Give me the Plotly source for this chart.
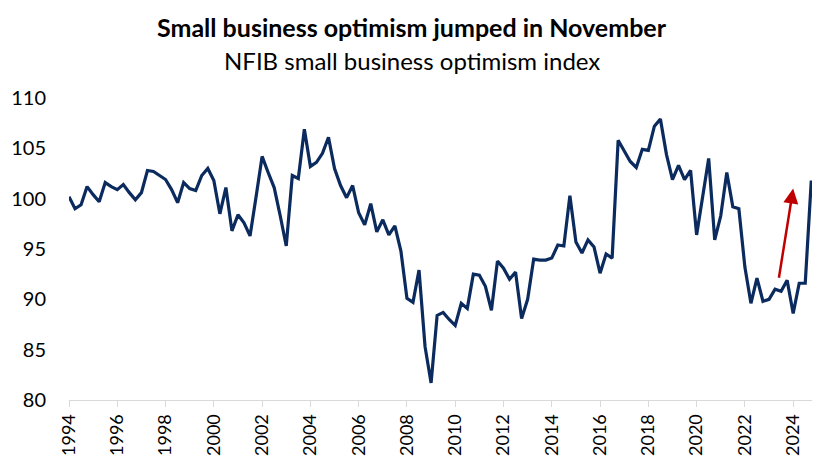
import plotly.graph_objects as go

start_year = 1994
# NFIB small business optimism index, quarterly 1994Q1 - 2024Q4
values = [
    100.2, 99.0, 99.4, 101.2, 100.4, 99.7, 101.6, 101.2, 100.9, 101.4, 100.6, 99.9,
    100.6, 102.8, 102.7, 102.3, 101.9, 100.9, 99.6, 101.6, 101.0, 100.8, 102.3, 103.0,
    101.8, 98.5, 101.1, 96.8, 98.4, 97.6, 96.3, 100.2, 104.2, 102.6, 101.1, 98.3,
    95.3, 102.3, 102.0, 106.9, 103.2, 103.6, 104.5, 106.1, 103.0, 101.3, 100.1, 101.3,
    98.6, 97.4, 99.5, 96.7, 97.9, 96.4, 97.3, 94.8, 90.1, 89.7, 92.9, 85.3,
    81.7, 88.4, 88.7, 88.0, 87.4, 89.6, 89.1, 92.5, 92.4, 91.3, 88.9, 93.8,
    93.1, 92.0, 92.7, 88.1, 90.0, 94.0, 93.9, 93.9, 94.1, 95.4, 95.3, 100.3,
    95.7, 94.6, 95.9, 95.2, 92.6, 94.5, 94.1, 105.8, 104.7, 103.7, 103.1, 104.9,
    104.8, 107.2, 107.9, 104.4, 101.9, 103.3, 101.9, 102.8, 96.4, 100.4, 104.0, 95.9,
    98.3, 102.6, 99.2, 99.0, 93.2, 89.6, 92.1, 89.8, 90.0, 91.0, 90.8, 91.9,
    88.6, 91.6, 91.6, 101.8,
]
x_dates = [start_year + i * 0.25 for i in range(len(values))]
tick_years = list(range(1994, 2025, 2))
y_ticks = [80, 85, 90, 95, 100, 105, 110]

arrow_start = (2023.4, 92.0)
arrow_end = (2024.0, 101.0)

title = "Small business optimism jumped in November"
subtitle = "NFIB small business optimism index"

# plot area in pixels
L, R, T, B = 69, 812, 98, 400.5


def py(pix_y):
    return (B - pix_y) / (B - T)


fig = go.Figure()
fig.add_trace(go.Scatter(
    x=x_dates, y=values, mode="lines",
    line=dict(color="#0b2a5e", width=3.2),
    hoverinfo="skip", showlegend=False,
))

fig.add_annotation(
    x=arrow_end[0], y=arrow_end[1], ax=arrow_start[0], ay=arrow_start[1],
    xref="x", yref="y", axref="x", ayref="y",
    showarrow=True, arrowhead=2, arrowsize=1.2, arrowwidth=2.5,
    arrowcolor="#c00000", text="",
)
fig.add_annotation(
    text="<b>" + title + "</b>", xref="paper", yref="paper",
    x=(412 - L) / (R - L), y=py(27),
    showarrow=False, font=dict(family="Lato", size=25, color="#000000"),
    xanchor="center", yanchor="middle",
)
fig.add_annotation(
    text=subtitle, xref="paper", yref="paper",
    x=(412 - L) / (R - L), y=py(60),
    showarrow=False, font=dict(family="Lato", size=24, color="#000000"),
    xanchor="center", yanchor="middle",
)

fig.update_layout(
    width=826, height=473,
    margin=dict(l=L, r=826 - R, t=T, b=473 - B),
    paper_bgcolor="white", plot_bgcolor="white",
    font=dict(family="Lato", color="#000000"),
)

fig.update_xaxes(
    range=[1994, 2024.78], tickmode="array", tickvals=tick_years,
    ticktext=[str(y) for y in tick_years], tickangle=-90,
    showline=True, linecolor="#d9d9d9", linewidth=1,
    ticks="outside", ticklen=6, tickcolor="#d9d9d9",
    showgrid=False, zeroline=False,
    tickfont=dict(family="Lato", size=18, color="#000000"),
)
fig.update_yaxes(
    range=[80, 110], tickmode="array", tickvals=y_ticks,
    showline=False, showgrid=False, zeroline=False, ticks="",
    ticklabelstandoff=22,
    tickfont=dict(family="Lato", size=20, color="#000000"),
)

fig.write_html("out.html")
